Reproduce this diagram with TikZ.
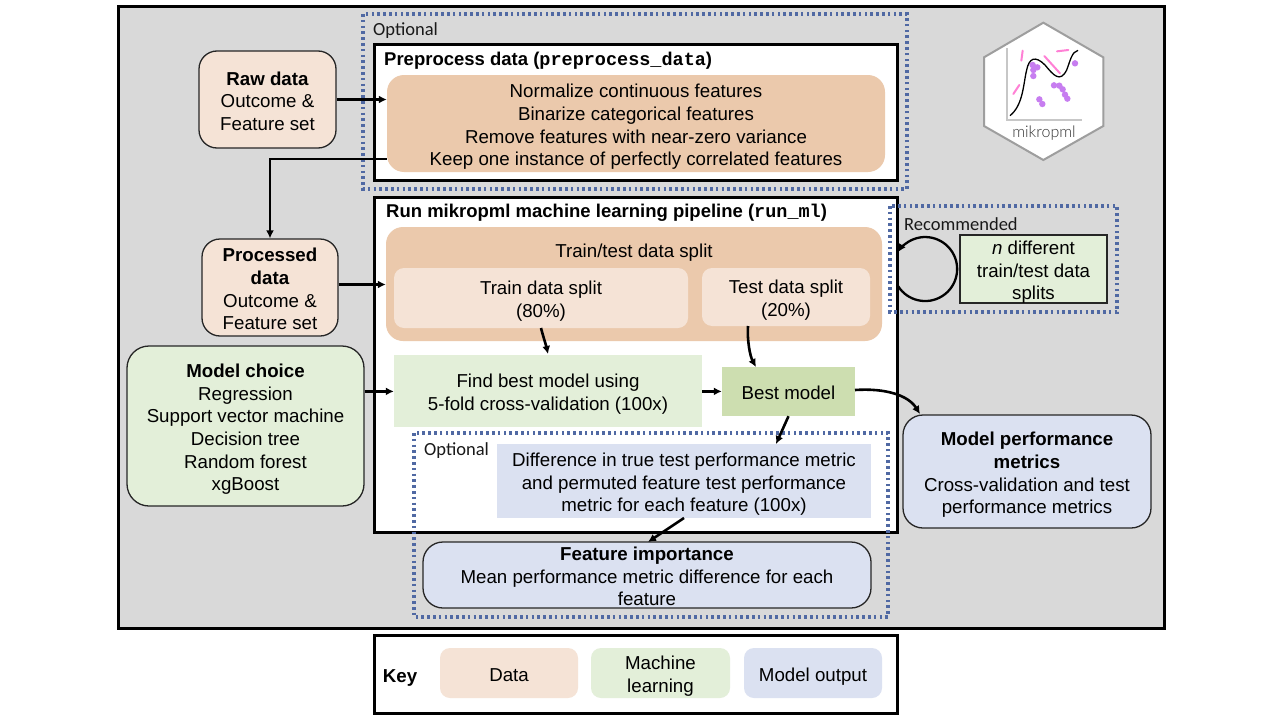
\documentclass[tikz,border=0pt]{standalone}
\usepackage{fontspec}
\setmainfont{Liberation Sans}
\setmonofont{Liberation Mono}
\newfontfamily\calib{Carlito}
\newfontfamily\logofont{Lato Light}
\usetikzlibrary{arrows.meta}
\definecolor{panel}{HTML}{D9D9D9}
\definecolor{datalight}{HTML}{F5E3D6}
\definecolor{datadark}{HTML}{EBC9AC}
\definecolor{mllight}{HTML}{E3EFD9}
\definecolor{mldark}{HTML}{CDDEB0}
\definecolor{outblue}{HTML}{DBE1F1}
\definecolor{dotblue}{HTML}{5069A3}
\definecolor{logopink}{HTML}{FF80D5}
\definecolor{logopurple}{HTML}{C77DF0}
\newcommand{\lift}{\rule{0pt}{16.5pt}}
\newcommand{\place}[6]{%
  \pgfmathsetmacro{\pw}{#5-#3}\pgfmathsetmacro{\ph}{#6-#4}%
  \pgfmathsetmacro{\px}{(#3+#5)/2}\pgfmathsetmacro{\py}{(#4+#6)/2}%
  \node[#1,minimum width=\pw pt,minimum height=\ph pt] (#2) at (\px,\py)}
\tikzset{
  x=1pt,y=-1pt,
  txt/.style={font=\fontsize{18.7}{22.6}\selectfont,align=center,inner sep=0pt,text=black,text depth=0pt,execute at begin node={\rule{0pt}{16pt}}},
  ttl/.style={font=\fontsize{18.5}{20}\selectfont\bfseries,anchor=west,inner sep=0pt},
  opt/.style={font=\fontsize{18.5}{20}\selectfont\calib,anchor=west,inner sep=0pt,text=black!90},
  frame/.style={draw=black,line width=3pt,fill=white},
  databox/.style={txt,draw=black!85,line width=1.3pt,fill=datalight,rounded corners=18pt},
  mlbox/.style={txt,draw=black!85,line width=1.3pt,fill=mllight,rounded corners=22pt},
  outbox/.style={txt,draw=black!85,line width=1.3pt,fill=outblue,rounded corners=20pt},
  softdark/.style={txt,fill=datadark,rounded corners=17pt},
  softlight/.style={txt,fill=datalight,rounded corners=10pt},
  flatml/.style={txt,fill=mllight},
  flatbest/.style={txt,fill=mldark},
  flatout/.style={txt,fill=outblue},
  dotted box/.style={draw=dotblue,line width=3.1pt,dash pattern=on 2.6pt off 3.2pt,fill=none},
  arr/.style={draw=black,line width=2.6pt,-{Latex[length=8pt,width=8pt]}},
  thinarr/.style={draw=black,line width=2pt,-{Latex[length=8pt,width=8pt]}},
}
\begin{document}
\begin{tikzpicture}
\useasboundingbox (0,0) rectangle (1280,720);
\draw[draw=black,line width=3pt,fill=panel] (118,6) rectangle (1164,628);

% logo
\begin{scope}[shift={(960,20)},x=.33333pt,y=-.33333pt]
\draw[draw=black!38,line width=2pt,fill=white] (250,8) -- (430,112) -- (430,318) -- (250,420) -- (72,318) -- (72,112) -- cycle;
\draw[black!22,line width=1.3pt] (141,85) -- (141,300) -- (365,300);
\draw[logopink,line width=2pt,line cap=round] (188,92) -- (184,122) (160,222) -- (178,195) (253,108) -- (300,160) (291,94) -- (325,90);
\foreach \a/\b in {218/135,232/142,220/150,220/168,345/130,282/196,298/197,308/208,315/224,322/236,238/238,247/252}
  \fill[logopurple] (\a,\b) circle[radius=3.2pt];
\draw[black,line width=1.3pt] (150,287) .. controls (190,255) and (190,190) .. (200,150) .. controls (207,115) and (225,105) .. (255,135) .. controls (280,165) and (300,190) .. (320,150) .. controls (330,125) and (335,95) .. (354,91);
\node[font=\fontsize{16}{18}\selectfont\logofont,inner sep=0pt,text=black!80] (logotext) at (252,340) {mikropml};
\end{scope}

% frames
\place{frame}{prepframe}{374}{44}{897}{180}{};
\place{frame}{runframe}{374}{197}{897}{532}{};
\place{frame}{keyframe}{374}{635}{897}{713}{};
\node[ttl] (preptitle) at (384,61) {Preprocess data ({\ttfamily preprocess\_data})};
\node[ttl] (runtitle) at (386,213) {Run mikropml machine learning pipeline ({\ttfamily run\_ml})};

% data
\place{databox}{raw}{199}{51}{336}{148}{\lift\textbf{Raw data}\\Outcome \&\\Feature set};
\place{databox}{proc}{202}{239}{338}{336}{\lift\textbf{Processed}\\\textbf{data}\\Outcome \&\\Feature set};
\place{softdark}{prep}{387}{75}{885}{172}{\lift Normalize continuous features\\Binarize categorical features\\Remove features with near-zero variance\\Keep one instance of perfectly correlated features};
\place{softdark}{split}{386}{227}{882}{341}{};
\node[txt] (splitlabel) at (634,249) {Train/test data split};
\place{softlight}{train}{394}{268}{688}{328}{\lift Train data split\\(80\%)};
\place{softlight}{test}{702}{268}{870}{326}{\lift Test data split\\(20\%)};

% ml
\place{mlbox}{choice}{127}{346}{364}{506}{\lift\textbf{Model choice}\\Regression\\Support vector machine\\Decision tree\\Random forest\\xgBoost};
\place{flatml}{find}{394}{355}{702}{427}{\lift Find best model using\\5-fold cross-validation (100x)};
\place{flatbest}{best}{722}{367}{855}{416}{Best model};

% output
\place{flatout}{diff}{497}{444}{871}{518}{\lift Difference in true test performance metric\\and permuted feature test performance\\metric for each feature (100x)};
\place{outbox}{imp}{423}{542}{871}{608}{\lift\textbf{Feature importance}\\Mean performance metric difference for each\\feature};
\place{outbox}{perf}{903}{415}{1151}{528}{\lift\textbf{Model performance}\\\textbf{metrics}\\Cross-validation and test\\performance metrics};

% recommended
\place{txt,draw=black!85,line width=1.3pt,fill=mllight}{nsplits}{960}{235}{1107}{303}{\lift\textit{n} different\\train/test data\\splits};

% dotted regions
\draw[dotted box] (363,14) rectangle (907,189);
\draw[dotted box] (414,433) rectangle (888,617);
\draw[dotted box] (890,206) rectangle (1117,312);
\node[opt] (opt1) at (373,31) {Optional};
\node[opt] (opt2) at (424,451) {Optional};
\node[opt] (opt3) at (904,224) {Recommended};

% key
\node[txt,font=\fontsize{18.7}{22}\selectfont\bfseries] (keylabel) at (400,674) {Key};
\place{softlight}{kdata}{440}{648}{578}{698}{Data};
\place{txt,fill=mllight,rounded corners=10pt}{kml}{591}{648}{730}{698}{\lift Machine\\learning};
\place{txt,fill=outblue,rounded corners=10pt}{kout}{744}{648}{882}{698}{Model output};

% connectors
\draw[arr] (raw.east) -- (raw.east -| prep.west);
\draw[thinarr] ([yshift=-35.5pt]prep.west) -| (proc.north);
\draw[arr] ([yshift=3pt]proc.east) -- ([yshift=3pt]proc.east -| split.west);
\draw[arr] ([yshift=-.4pt]choice.east |- find.west) -- ([yshift=-.4pt]find.west);
\draw[arr] ([yshift=-.4pt]find.east) -- ([yshift=-.4pt]find.east -| best.west);
\coordinate (trainout) at (541,328);
\coordinate (findin) at (548,354);
\draw[arr] (trainout) .. controls (543,336) and (546,345) .. (findin);
\coordinate (testout) at (748,326);
\coordinate (bestin) at (756,367);
\draw[arr] (testout) .. controls (747,340) and (750,356) .. (bestin);
\coordinate (bestout) at (855,390);
\coordinate (perfin) at (920,414);
\draw[arr] (bestout) .. controls (885,388) and (908,395) .. (perfin);
\coordinate (diffin) at (776,444);
\draw[arr] (best.south) -- (diffin);
\coordinate (diffout) at (684,518);
\coordinate (impin) at (648,542);
\draw[arr] (diffout) -- (impin);
\coordinate (loopstart) at (898,286);
\draw[draw=black,line width=2.3pt,-{Latex[length=8pt,width=8pt]}] (loopstart) arc[start angle=212,end angle=508,radius=32pt];
\end{tikzpicture}
\end{document}
